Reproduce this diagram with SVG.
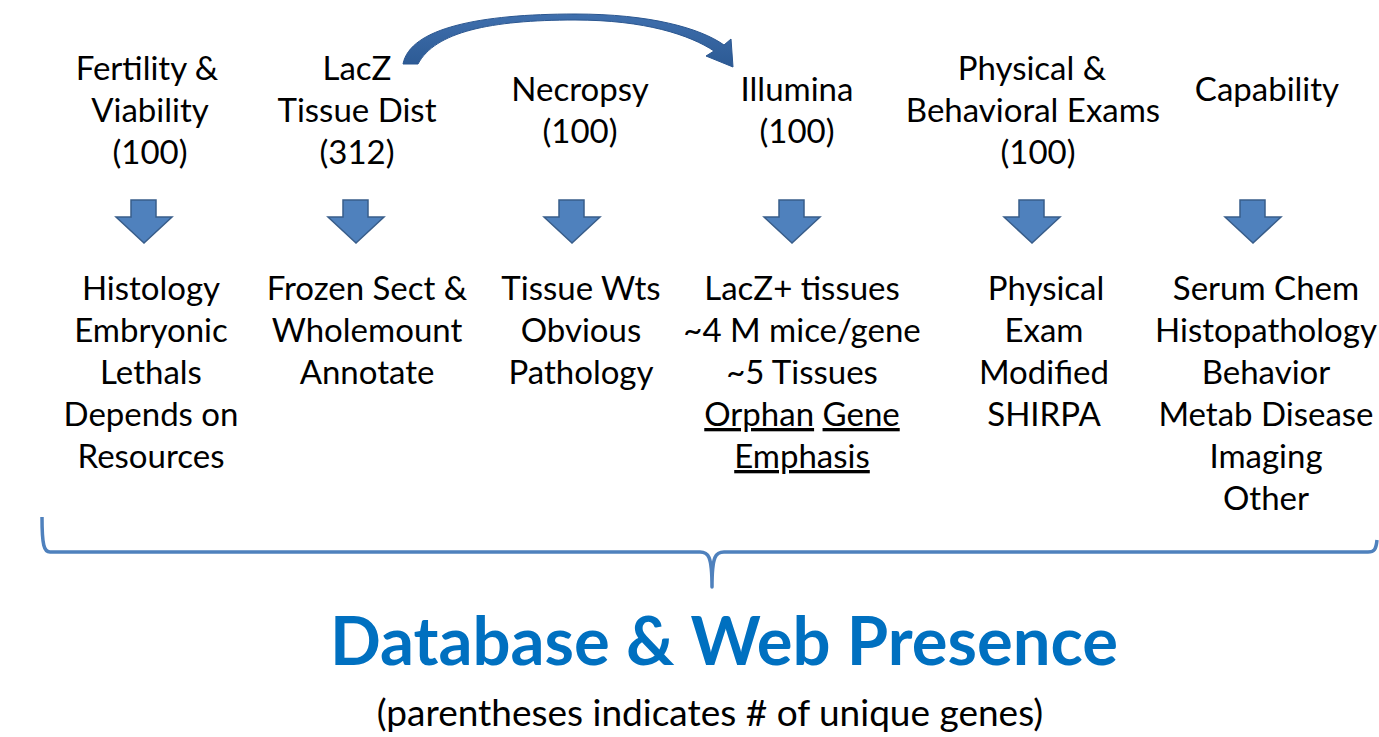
<svg xmlns="http://www.w3.org/2000/svg" width="1379" height="737" viewBox="0 0 1379 737">
<style>
.t{font-family:Lato,"Liberation Sans",sans-serif;font-size:33px;fill:#000;text-anchor:middle}
.f{font-family:Lato,"Liberation Sans",sans-serif;font-size:37px;fill:#000;text-anchor:middle}
.u{text-decoration:underline}
.blk{fill:#4F81BD;stroke:#385D8A;stroke-width:1.5}
.brace{fill:none;stroke:#4F81BD;stroke-width:3.5;stroke-linejoin:round}
.title{font-family:Lato,"Liberation Sans",sans-serif;font-weight:bold;font-size:67px;fill:#0070C0;text-anchor:middle}
</style>
<defs>
<path id="down" d="M-13,-30 H12 V-13 H28 L0,13 L-28,-13 H-13 Z"/>
<linearGradient id="cg" x1="0" y1="0" x2="0" y2="1">
<stop offset="0" stop-color="#3F6FAD"/>
<stop offset="1" stop-color="#2C5A94"/>
</linearGradient>
</defs>

<g id="col1">
<text class="t" x="147" y="80">Fertility &amp;</text>
<text class="t" x="150" y="122">Viability</text>
<text class="t" x="150" y="164">(100)</text>
<use href="#down" class="blk" x="144" y="230"/>
<text class="t" x="151" y="300">Histology</text>
<text class="t" x="151" y="342">Embryonic</text>
<text class="t" x="151" y="384">Lethals</text>
<text class="t" x="151" y="426">Depends on</text>
<text class="t" x="151" y="468">Resources</text>
</g>

<g id="col2">
<text class="t" x="357" y="80">LacZ</text>
<text class="t" x="357" y="122">Tissue Dist</text>
<text class="t" x="357" y="164">(312)</text>
<use href="#down" class="blk" x="356" y="230"/>
<text class="t" x="367" y="300">Frozen Sect &amp;</text>
<text class="t" x="367" y="342">Wholemount</text>
<text class="t" x="367" y="384">Annotate</text>
</g>

<g id="col3">
<text class="t" x="580" y="101">Necropsy</text>
<text class="t" x="580" y="143">(100)</text>
<use href="#down" class="blk" x="572" y="230"/>
<text class="t" x="581" y="300">Tissue Wts</text>
<text class="t" x="581" y="342">Obvious</text>
<text class="t" x="581" y="384">Pathology</text>
</g>

<g id="col4">
<text class="t" x="797" y="101">Illumina</text>
<text class="t" x="797" y="143">(100)</text>
<use href="#down" class="blk" x="792" y="230"/>
<text class="t" x="802" y="300">LacZ+ tissues</text>
<text class="t" x="802" y="342">~4 M mice/gene</text>
<text class="t" x="802" y="384">~5 Tissues</text>
<text class="t" x="802" y="426"><tspan class="u">Orphan</tspan> <tspan class="u">Gene</tspan></text>
<text class="t" x="802" y="468"><tspan class="u">Emphasis</tspan></text>
</g>

<g id="col5">
<text class="t" x="1032" y="80">Physical &amp;</text>
<text class="t" x="1033" y="122">Behavioral Exams</text>
<text class="t" x="1038" y="164">(100)</text>
<use href="#down" class="blk" x="1032" y="230"/>
<text class="t" x="1046" y="300">Physical</text>
<text class="t" x="1044" y="342">Exam</text>
<text class="t" x="1044" y="384">Modified</text>
<text class="t" x="1044" y="426">SHIRPA</text>
</g>

<g id="col6">
<text class="t" x="1267" y="101">Capability</text>
<use href="#down" class="blk" x="1253" y="230"/>
<text class="t" x="1266" y="300">Serum Chem</text>
<text class="t" x="1266" y="342">Histopathology</text>
<text class="t" x="1266" y="384">Behavior</text>
<text class="t" x="1266" y="426">Metab Disease</text>
<text class="t" x="1266" y="468">Imaging</text>
<text class="t" x="1266" y="510">Other</text>
</g>

<g id="connectors">
<path d="M403,64 C410,28 480,14 575,14 C650,14 700,28 724,45 L731,39 L733,67 L706,56 L714,51 C690,35 645,20 575,20 C490,20 435,32 418,64 Z" fill="url(#cg)" stroke="#2A5690" stroke-width="1"/>
<path class="brace" d="M42,517 C42,545 44,552 50,552 H700 C708,552 712,555 712,587 C712,555 716,552 724,552 H1368 C1374,552 1376,550 1377,540"/>
</g>

<g id="footer">
<text class="title" x="724" y="665">Database &amp; Web Presence</text>
<text class="f" x="710" y="726">(parentheses indicates # of unique genes)</text>
</g>
</svg>
